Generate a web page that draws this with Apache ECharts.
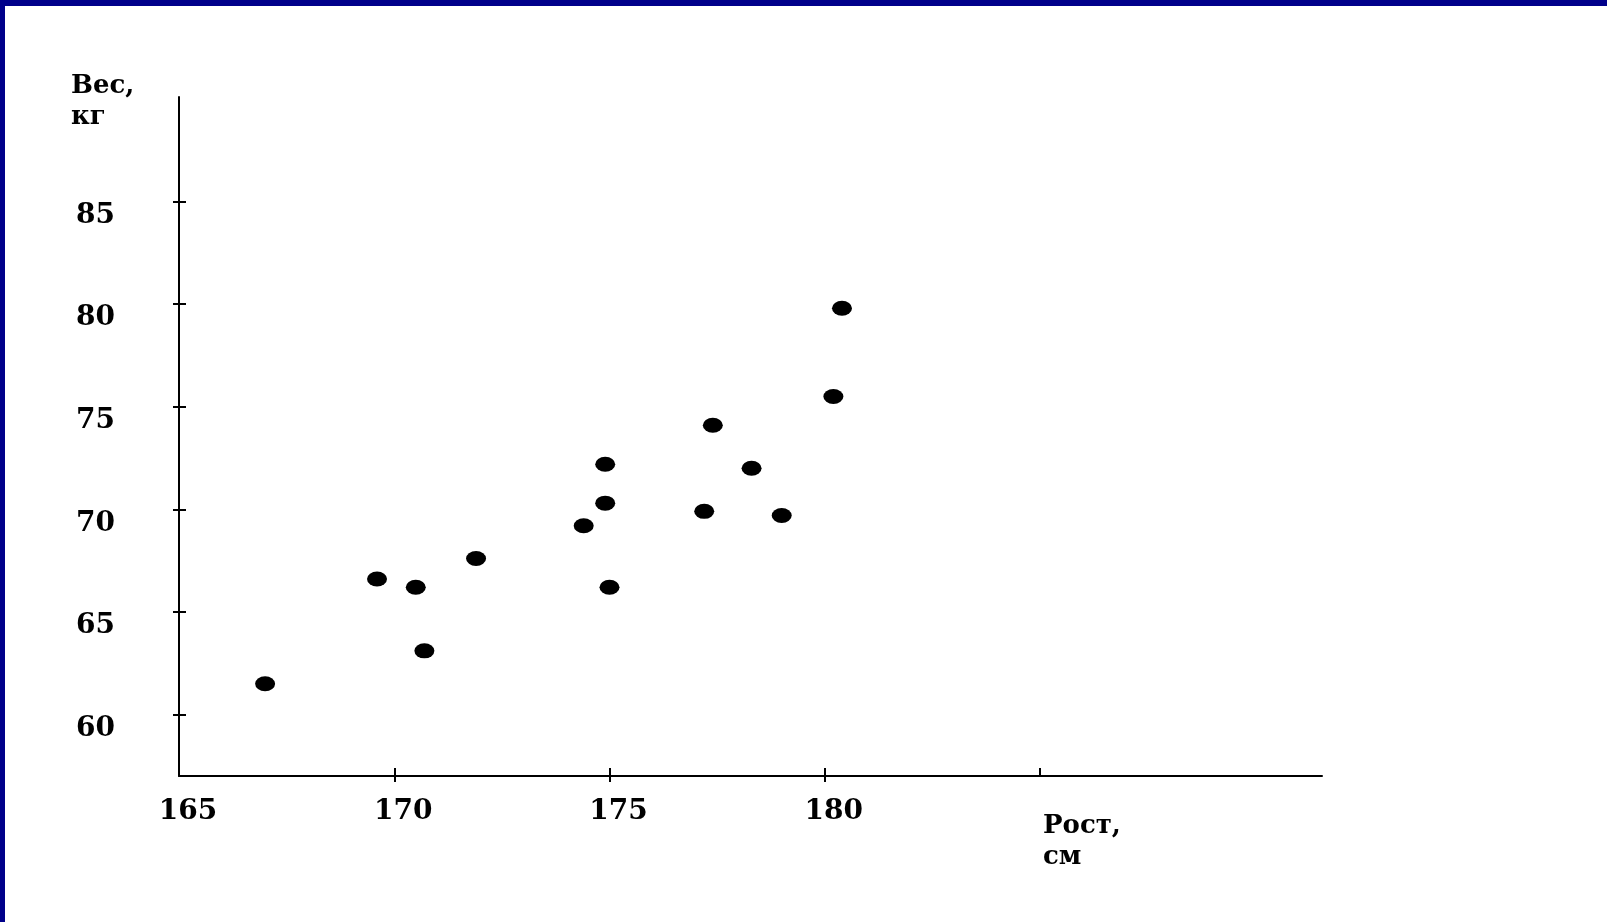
<!DOCTYPE html>
<html>
<head>
<meta charset="utf-8">
<script src="https://cdn.jsdelivr.net/npm/echarts@6/dist/echarts.min.js"></script>
<style>
  html, body { margin: 0; padding: 0; background: #fff; overflow: hidden; }
  #main { position: absolute; left: 0; top: 0; width: 1607px; height: 922px; }
  .edge { position: absolute; background: #00008a; }
</style>
</head>
<body>
<div id="main"></div>
<div class="edge" style="left:0;top:0;width:1607px;height:6px;"></div>
<div class="edge" style="left:0;top:0;width:5px;height:922px;"></div>
<script>
// рост, см
var heights = [167.0, 169.6, 170.5, 170.7, 171.9, 174.4, 174.9, 174.9, 175.0, 177.2, 177.4, 178.3, 179.0, 180.2, 180.4];
// вес, кг
var weights = [61.5, 66.6, 66.2, 63.1, 67.6, 69.2, 72.2, 70.3, 66.2, 69.9, 74.1, 72.0, 69.7, 75.5, 79.8];

var xTicks = [165, 170, 175, 180, 185];
var xLabels = [165, 170, 175, 180];
var yTicks = [60, 65, 70, 75, 80, 85];

var points = [];
for (var i = 0; i < heights.length; i++) {
    points.push([heights[i], weights[i]]);
}

var labelFont = 'DejaVu Serif';

function drawChart() {
    var myChart = echarts.init(document.getElementById('main'));
    var option = {
        animation: false,
        backgroundColor: '#fff',
        title: [
            {
                text: 'Вес,\nкг',
                left: 66, top: 66,
                textStyle: { fontFamily: labelFont, fontWeight: 'bold', fontSize: 26, lineHeight: 31, color: '#000' }
            },
            {
                text: 'Рост,\nсм',
                left: 1038, top: 806,
                textStyle: { fontFamily: labelFont, fontWeight: 'bold', fontSize: 26, lineHeight: 31, color: '#000' }
            }
        ],
        grid: { left: 179, top: 97, right: 285, bottom: 146, outerBoundsMode: 'none' },
        xAxis: [
            {
                type: 'value', min: 165, max: 191.55, position: 'bottom',
                splitLine: { show: false },
                axisLine: { lineStyle: { color: '#000', width: 2 } },
                axisTick: { show: true, inside: true, length: 8, customValues: xTicks, lineStyle: { color: '#000', width: 2 } },
                axisLabel: {
                    customValues: xLabels, margin: 22, color: '#000',
                    fontFamily: labelFont, fontWeight: 'bold', fontSize: 28,
                    formatter: function (v) { return '{a|' + v + '}'; },
                    rich: { a: { fontFamily: labelFont, fontWeight: 'bold', fontSize: 28, color: '#000', padding: [0, 0, 0, 18] } }
                }
            },
            {
                type: 'value', min: 165, max: 191.55, position: 'bottom',
                splitLine: { show: false },
                axisLine: { show: false },
                axisTick: { show: true, length: 6, customValues: [170, 175, 180], lineStyle: { color: '#000', width: 2 } },
                axisLabel: { show: false }
            }
        ],
        yAxis: [
            {
                type: 'value', min: 57, max: 90.1, position: 'left',
                splitLine: { show: false },
                axisLine: { lineStyle: { color: '#000', width: 2 } },
                axisTick: { show: true, length: 6, customValues: yTicks, lineStyle: { color: '#000', width: 2 } },
                axisLabel: {
                    customValues: yTicks, margin: 64, color: '#000',
                    fontFamily: labelFont, fontWeight: 'bold', fontSize: 28,
                    verticalAlign: 'top'
                }
            },
            {
                type: 'value', min: 57, max: 90.1, position: 'left',
                splitLine: { show: false },
                axisLine: { show: false },
                axisTick: { show: true, inside: true, length: 7, customValues: yTicks, lineStyle: { color: '#000', width: 2 } },
                axisLabel: { show: false }
            }
        ],
        series: [
            {
                type: 'scatter',
                symbol: 'circle',
                symbolSize: [20, 15],
                itemStyle: { color: '#000', opacity: 1 },
                data: points
            }
        ]
    };
    myChart.setOption(option);
}

drawChart();
</script>
</body>
</html>
